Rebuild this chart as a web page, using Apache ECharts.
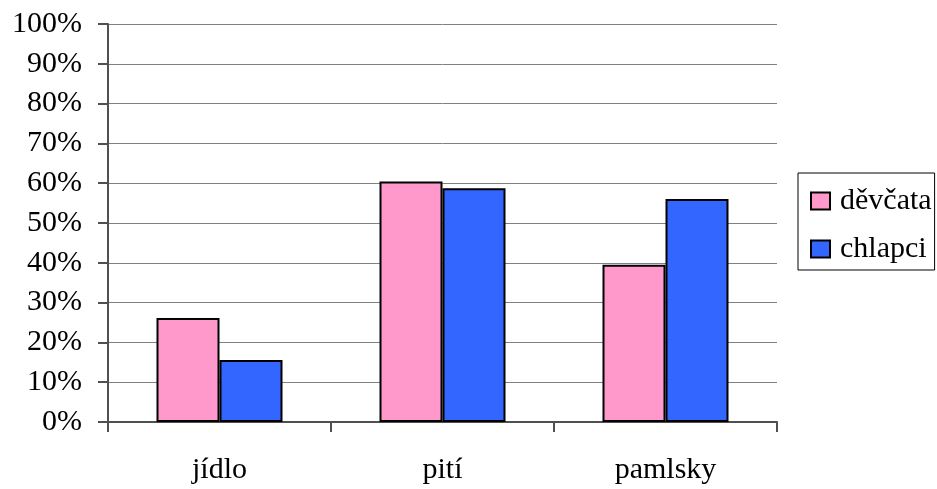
<!DOCTYPE html>
<html>
<head>
<meta charset="utf-8">
<script src="https://cdn.jsdelivr.net/npm/echarts@6/dist/echarts.min.js"></script>
<style>html,body{margin:0;padding:0;background:#fff}#c{width:937px;height:489px}</style>
</head>
<body>
<div id="c"></div>
<script>
const categories = ['jídlo', 'pití', 'pamlsky'];
const devcata = [26.1, 60.4, 39.5];
const chlapci = [15.6, 58.7, 56.0];
const seriesNames = ['děvčata', 'chlapci'];

const FONT = '"Liberation Serif", "Times New Roman", serif';
const chart = echarts.init(document.getElementById('c'));
chart.setOption({
  animation: false,
  backgroundColor: '#ffffff',
  grid: { left: 108, right: 160, top: 24, bottom: 67 },
  legend: {
    orient: 'vertical',
    left: 798, top: 173,
    padding: [13, 3, 6, 12],
    itemGap: 18,
    itemWidth: 19, itemHeight: 17,
    borderColor: '#000', borderWidth: 1,
    icon: 'rect',
    textStyle: { fontFamily: FONT, fontSize: 30, color: '#000', lineHeight: 30, padding: [0, 0, 0, 5] },
    data: seriesNames
  },
  xAxis: {
    type: 'category',
    data: categories,
    axisLine: { lineStyle: { color: '#505050', width: 2 } },
    axisTick: { show: true, length: 10, lineStyle: { color: '#505050', width: 2 } },
    axisLabel: { fontFamily: FONT, fontSize: 30, color: '#000', margin: 33 }
  },
  yAxis: {
    type: 'value', min: 0, max: 100, interval: 10,
    axisLine: { show: true, lineStyle: { color: '#505050', width: 2 } },
    axisTick: { show: true, length: 10, lineStyle: { color: '#505050', width: 2 } },
    axisLabel: { formatter: '{value}%', fontFamily: FONT, fontSize: 30, color: '#000', margin: 26 },
    splitLine: { lineStyle: { color: '#808080', width: 1 } }
  },
  series: [
    { name: seriesNames[0], type: 'bar', data: devcata, barGap: '0%', barCategoryGap: '43.5%',
      itemStyle: { color: '#FF99CC', borderColor: '#000', borderWidth: 2 } },
    { name: seriesNames[1], type: 'bar', data: chlapci, barGap: '0%', barCategoryGap: '43.5%',
      itemStyle: { color: '#3366FF', borderColor: '#000', borderWidth: 2 } }
  ]
});
</script>
</body>
</html>
